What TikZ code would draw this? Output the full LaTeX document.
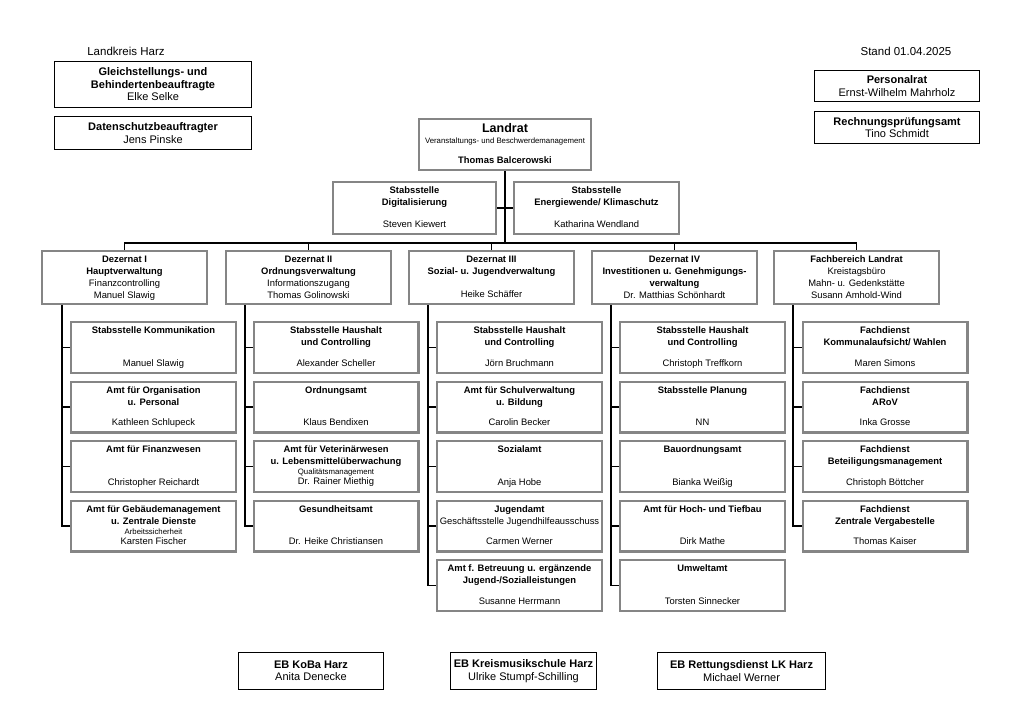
\documentclass[tikz,border=0pt]{standalone}
\usepackage{fontspec}
\setmainfont{Liberation Sans}
\usetikzlibrary{calc}
\definecolor{boxgray}{HTML}{858585}
\newcommand{\sm}{\fontsize{7.8}{9}\selectfont}
\newcommand{\inbx}[3]{\parbox[c][#2][s]{#1}{\centering\vspace*{3pt}\leavevmode\strut #3\strut\par\vspace*{3pt}}}
\newcommand{\cbx}[3]{\node[gbox] (#1) at (#2) {\inbx{164.6pt}{50.6pt}{#3}};}
\begin{document}
\begin{tikzpicture}[x=1pt,y=-1pt,font=\fontsize{9.4}{12}\selectfont,
  gbox/.style={draw=boxgray,line width=2.4pt,fill=white,inner sep=0pt},
  kbox/.style={draw=black,line width=1.4pt,fill=white,inner sep=0pt,align=center,font=\fontsize{11}{12.5}\selectfont},
  conn/.style={draw=black,line width=1.1pt},
  plain/.style={inner sep=0pt,font=\fontsize{11.5}{13}\selectfont}]
\useasboundingbox (0,0) rectangle (1024,724);

% header
\node[plain] (lk) at (126,51) {Landkreis Harz};
\node[plain] (stand) at (906,51) {Stand 01.04.2025};

\node[kbox,minimum width=196.6,minimum height=45.6] (gleich) at (153,84.5)
  {\textbf{Gleichstellungs- und}\\\textbf{Behindertenbeauftragte}\\Elke Selke};
\node[kbox,minimum width=196.6,minimum height=32.6] (daten) at (153,133)
  {\textbf{Datenschutzbeauftragter}\\Jens Pinske};
\node[kbox,minimum width=164.6,minimum height=30.6] (personal) at (897,86)
  {\textbf{Personalrat}\\Ernst-Wilhelm Mahrholz};
\node[kbox,minimum width=164.6,minimum height=31.6] (rpa) at (897,127.5)
  {\textbf{Rechnungsprüfungsamt}\\Tino Schmidt};

% Landrat
\node[gbox] (lr) at (505,144.5) {\parbox[c][50.6pt][s]{171.6pt}{\centering\vspace*{3pt}%
  {\fontsize{12.5}{15}\selectfont\bfseries\leavevmode\strut Landrat\par}%
  {\sm Veranstaltungs- und Beschwerdemanagement\par}\vfill
  \textbf{Thomas Balcerowski}\strut\par\vspace*{3pt}}};

\node[gbox] (dig) at (414.5,208) {\inbx{162.6pt}{51.6pt}{\textbf{Stabsstelle}\\\textbf{Digitalisierung}\par\vfill Steven Kiewert}};
\node[gbox] (ene) at (596.5,208) {\inbx{164.6pt}{51.6pt}{\textbf{Stabsstelle}\\\textbf{Energiewende/ Klimaschutz}\par\vfill Katharina Wendland}};

% Dezernate
\node[gbox] (d1) at (124.5,277.5) {\inbx{164.6pt}{52.6pt}{\textbf{Dezernat I}\\\textbf{Hauptverwaltung}\\Finanzcontrolling\\Manuel Slawig}};
\node[gbox] (d2) at (308.5,277.5) {\inbx{164.6pt}{52.6pt}{\textbf{Dezernat II}\\\textbf{Ordnungsverwaltung}\\Informationszugang\\Thomas Golinowski}};
\node[gbox] (d3) at (491.5,277.5) {\inbx{164.6pt}{52.6pt}{\textbf{Dezernat III}\\\textbf{Sozial- u. Jugendverwaltung}\par\vfill Heike Schäffer}};
\node[gbox] (d4) at (674.5,277.5) {\inbx{164.6pt}{52.6pt}{\textbf{Dezernat IV}\\\textbf{Investitionen u. Genehmigungs-}\\\textbf{verwaltung}\\Dr. Matthias Schönhardt}};
\node[gbox] (fb) at (856.5,277.5) {\inbx{164.6pt}{52.6pt}{\textbf{Fachbereich Landrat}\\Kreistagsbüro\\Mahn- u. Gedenkstätte\\Susann Amhold-Wind}};

% column 1
\cbx{c11}{153.5,347.5}{\textbf{Stabsstelle Kommunikation}\par\vfill Manuel Slawig}
\cbx{c12}{153.5,407}{\textbf{Amt für Organisation}\\\textbf{u. Personal}\par\vfill Kathleen Schlupeck}
\cbx{c13}{153.5,466.5}{\textbf{Amt für Finanzwesen}\par\vfill Christopher Reichardt}
\cbx{c14}{153.5,526}{\textbf{Amt für Gebäudemanagement}\\\textbf{u. Zentrale Dienste}\\[-2pt]{\sm Arbeitssicherheit}\\[-2pt]Karsten Fischer}
% column 2
\cbx{c21}{336,347.5}{\textbf{Stabsstelle Haushalt}\\\textbf{und Controlling}\par\vfill Alexander Scheller}
\cbx{c22}{336,407}{\textbf{Ordnungsamt}\par\vfill Klaus Bendixen}
\cbx{c23}{336,466.5}{\textbf{Amt für Veterinärwesen}\\\textbf{u. Lebensmittelüberwachung}\\[-2pt]{\sm Qualitätsmanagement}\\[-2pt]Dr. Rainer Miethig}
\cbx{c24}{336,526}{\textbf{Gesundheitsamt}\par\vfill Dr. Heike Christiansen}
% column 3
\cbx{c31}{519.5,347.5}{\textbf{Stabsstelle Haushalt}\\\textbf{und Controlling}\par\vfill Jörn Bruchmann}
\cbx{c32}{519.5,407}{\textbf{Amt für Schulverwaltung}\\\textbf{u. Bildung}\par\vfill Carolin Becker}
\cbx{c33}{519.5,466.5}{\textbf{Sozialamt}\par\vfill Anja Hobe}
\cbx{c34}{519.5,526}{\textbf{Jugendamt}\\Geschäftsstelle Jugendhilfeausschuss\par\vfill Carmen Werner}
\cbx{c35}{519.5,585.5}{\textbf{Amt f. Betreuung u. ergänzende}\\\textbf{Jugend-/Sozialleistungen}\par\vfill Susanne Herrmann}
% column 4
\cbx{c41}{702.5,347.5}{\textbf{Stabsstelle Haushalt}\\\textbf{und Controlling}\par\vfill Christoph Treffkorn}
\cbx{c42}{702.5,407}{\textbf{Stabsstelle Planung}\par\vfill NN}
\cbx{c43}{702.5,466.5}{\textbf{Bauordnungsamt}\par\vfill Bianka Weißig}
\cbx{c44}{702.5,526}{\textbf{Amt für Hoch- und Tiefbau}\par\vfill Dirk Mathe}
\cbx{c45}{702.5,585.5}{\textbf{Umweltamt}\par\vfill Torsten Sinnecker}
% column 5
\cbx{c51}{885,347.5}{\textbf{Fachdienst}\\\textbf{Kommunalaufsicht/ Wahlen}\par\vfill Maren Simons}
\cbx{c52}{885,407}{\textbf{Fachdienst}\\\textbf{ARoV}\par\vfill Inka Grosse}
\cbx{c53}{885,466.5}{\textbf{Fachdienst}\\\textbf{Beteiligungsmanagement}\par\vfill Christoph Böttcher}
\cbx{c54}{885,526}{\textbf{Fachdienst}\\\textbf{Zentrale Vergabestelle}\par\vfill Thomas Kaiser}

% bottom
\node[kbox,minimum width=144.6,minimum height=36.6] (koba) at (311,671)
  {\textbf{EB KoBa Harz}\\Anita Denecke};
\node[kbox,minimum width=145.6,minimum height=36.6] (kms) at (523.5,671)
  {\textbf{EB Kreismusikschule Harz}\\Ulrike Stumpf-Schilling};
\node[kbox,minimum width=167.6,minimum height=36.6] (rd) at (741.5,671)
  {\textbf{EB Rettungsdienst LK Harz}\\Michael Werner};

% connectors
\coordinate (bus) at (0,243);
\draw[conn] (lr.south) -- (lr.south |- bus);
\draw[conn] (dig.east) -- (ene.west);
\draw[conn] (d1.north) -- (d1.north |- bus) -- (fb.north |- bus) -- (fb.north);
\foreach \d in {d2,d3,d4} \draw[conn] (\d.north) -- (\d.north |- bus);

\coordinate (sp1) at (62,0);
\coordinate (sp2) at (245,0);
\coordinate (sp3) at (428,0);
\coordinate (sp4) at (611,0);
\coordinate (sp5) at (793,0);
\draw[conn] (d1.south -| sp1) |- (c14.west);
\foreach \c in {c11,c12,c13} \draw[conn] (\c.west) -- (\c.west -| sp1);
\draw[conn] (d2.south -| sp2) |- (c24.west);
\foreach \c in {c21,c22,c23} \draw[conn] (\c.west) -- (\c.west -| sp2);
\draw[conn] (d3.south -| sp3) |- (c35.west);
\foreach \c in {c31,c32,c33,c34} \draw[conn] (\c.west) -- (\c.west -| sp3);
\draw[conn] (d4.south -| sp4) |- (c45.west);
\foreach \c in {c41,c42,c43,c44} \draw[conn] (\c.west) -- (\c.west -| sp4);
\draw[conn] (fb.south -| sp5) |- (c54.west);
\foreach \c in {c51,c52,c53} \draw[conn] (\c.west) -- (\c.west -| sp5);
\end{tikzpicture}
\end{document}
